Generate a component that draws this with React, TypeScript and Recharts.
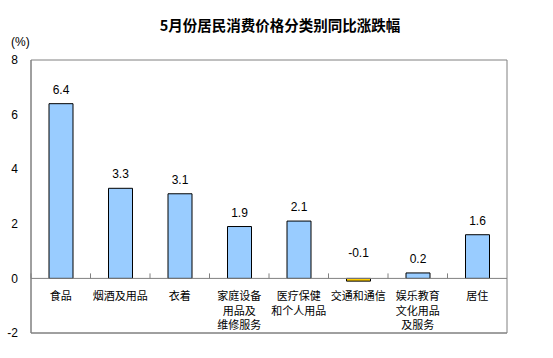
import { BarChart, Bar, XAxis, YAxis, ReferenceArea, ReferenceLine, LabelList, Cell } from 'recharts';

const categories = [
  '食品',
  '烟酒及用品',
  '衣着',
  '家庭设备\n用品及\n维修服务',
  '医疗保健\n和个人用品',
  '交通和通信',
  '娱乐教育\n文化用品\n及服务',
  '居住'
];
const values = [6.4, 3.3, 3.1, 1.9, 2.1, -0.1, 0.2, 1.6];
const yTicks = [-2, 0, 2, 4, 6, 8];

const data = categories.map((name, i) => ({ name, value: values[i] }));

// layout constants
const W = 553;
const H = 358;
const PLOT_LEFT = 31;
const PLOT_TOP = 60;
const PLOT_W = 476;
const PLOT_H = 273;
const BAND = PLOT_W / categories.length;
const Y_MIN = -2;
const Y_MAX = 8;
const ZERO_Y = PLOT_TOP + (PLOT_H * Y_MAX) / (Y_MAX - Y_MIN);

const LATIN = '"Liberation Sans", Arial, sans-serif';
const CJK = '"Noto Sans CJK SC", "Liberation Sans", sans-serif';
const FRAME = '#808080';

// category label + small tick at the left band edge, sitting on the zero line
const CategoryTick = ({ x, payload }: any) => {
  const lines = String(payload.value).split('\n');
  return (
    <g>
      <line x1={x - BAND / 2} x2={x - BAND / 2} y1={ZERO_Y} y2={ZERO_Y - 5} stroke={FRAME} />
      {lines.map((l, i) => (
        <text
          key={i}
          x={x}
          y={ZERO_Y + 22 + i * 14.3}
          textAnchor="middle"
          fontSize={11}
          fontFamily={CJK}
          fill="#000"
        >
          {l}
        </text>
      ))}
    </g>
  );
};

const ValueLabel = (props: any) => {
  const { x, y, width, height, value } = props;
  const top = Math.min(y, y + height);
  const ty = value < 0 ? top - 21 : top - 10;
  return (
    <text x={x + width / 2} y={ty} textAnchor="middle" fontSize={12} fontFamily={LATIN} fill="#000">
      {value}
    </text>
  );
};

export default function App() {
  return (
    <div style={{ position: 'absolute', left: 0, top: 0, width: W, height: H, background: '#fff' }}>
      <div
        style={{
          position: 'absolute',
          left: 0,
          width: 560,
          top: 15,
          textAlign: 'center',
          fontFamily: CJK,
          fontSize: 14.5,
          fontWeight: 'bold',
          lineHeight: '20px'
        }}
      >
        5月份居民消费价格分类别同比涨跌幅
      </div>
      <div style={{ position: 'absolute', left: 11, top: 34, fontFamily: LATIN, fontSize: 12, lineHeight: '16px' }}>
        (%)
      </div>
      <BarChart
        width={W}
        height={H}
        data={data}
        margin={{ top: PLOT_TOP, right: W - PLOT_LEFT - PLOT_W, bottom: 0, left: 0 }}
      >
        <XAxis
          dataKey="name"
          height={H - PLOT_TOP - PLOT_H}
          axisLine={{ stroke: FRAME }}
          tickLine={false}
          tickSize={0}
          interval={0}
          tick={<CategoryTick />}
        />
        <YAxis
          width={PLOT_LEFT}
          domain={[Y_MIN, Y_MAX]}
          ticks={yTicks}
          axisLine={{ stroke: FRAME }}
          tickLine={false}
          tickSize={0}
          tickMargin={13}
          tick={{ fontSize: 12, fontFamily: LATIN, fill: '#000' }}
        />
        <ReferenceArea
          y1={Y_MIN}
          y2={Y_MAX}
          ifOverflow="visible"
          fill="none"
          fillOpacity={0}
          stroke={FRAME}
          strokeWidth={1}
        />
        <ReferenceLine y={0} stroke={FRAME} />
        <Bar dataKey="value" barSize={24} stroke="#000" strokeWidth={1} isAnimationActive={false}>
          {data.map((d, i) => (
            <Cell key={`cell-${i}`} fill={d.value < 0 ? '#FFCC00' : '#99CCFF'} />
          ))}
          <LabelList dataKey="value" content={<ValueLabel />} />
        </Bar>
      </BarChart>
    </div>
  );
}
